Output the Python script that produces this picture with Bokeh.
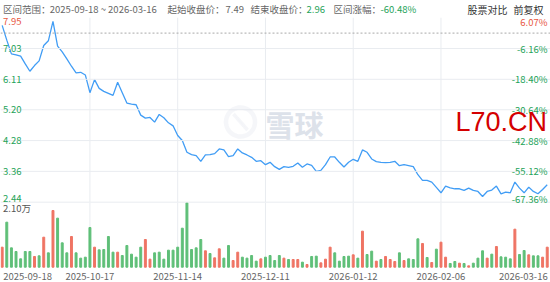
import numpy as np
from bokeh.plotting import figure
from bokeh.models import Range1d, Span, Label, LabelSet, ColumnDataSource, PolyAnnotation
from bokeh.core.properties import value
from bokeh.embed import file_html
from bokeh.resources import INLINE

# ---------------- data ----------------
range_text = "2025-09-18 ~ 2026-03-16"
start_close = 7.49
end_close = 2.96
change_text = "-60.48%"

close = [7.72, 7.28, 6.87, 6.84, 6.80, 6.57, 6.35, 6.52, 6.66, 7.12,
         7.26, 7.84, 7.10, 6.93, 6.72, 6.50, 6.30, 6.32, 6.24, 5.71,
         6.10, 5.84, 5.75, 5.69, 5.63, 6.02, 5.71, 5.40, 5.37, 5.35,
         5.04, 4.95, 4.97, 4.83, 5.06, 4.96, 4.81, 4.72, 4.43, 4.28,
         3.93, 3.86, 3.83, 3.66, 3.85, 3.86, 3.89, 4.03, 4.00, 3.80,
         3.83, 4.03, 3.91, 3.85, 3.78, 3.66, 3.68, 3.56, 3.63, 3.50,
         3.42, 3.50, 3.48, 3.51, 3.61, 3.48, 3.58, 3.54, 3.36, 3.39,
         3.56, 3.79, 3.79, 3.63, 3.49, 3.63, 3.72, 3.66, 4.00, 3.93,
         3.73, 3.65, 3.63, 3.62, 3.63, 3.66, 3.53, 3.56, 3.53, 3.50,
         3.26, 3.09, 3.09, 3.04, 2.88, 2.72, 2.92, 2.87, 2.84, 2.84,
         2.79, 2.86, 2.79, 2.76, 2.61, 2.76, 2.80, 2.92, 2.69, 2.74,
         2.72, 3.04, 2.86, 2.72, 2.89, 2.76, 2.69, 2.82, 2.96]

volume = [6530, 14680, 6310, 5120, 2730, 5120, 5120, 3490, 3710, 9790,
          4680, 18480, 15990, 7940, 4680, 10010, 4680, 2950, 3270, 12940,
          6530, 5660, 5770, 10010, 4900, 4900, 3810, 7070, 4250, 3270,
          6530, 9030, 2620, 4680, 4900, 2620, 5550, 5550, 6530, 12720,
          21000, 5770, 6310, 9030, 5340, 4470, 3050, 5990, 2950, 7070,
          2180, 4900, 3270, 2950, 3810, 1970, 2730, 3270, 3810, 2180,
          3810, 2950, 2510, 2510, 2510, 1640, 880, 3490, 3600, 1420,
          2620, 6530, 4680, 1970, 3490, 3600, 4030, 2950, 11750, 4140,
          5230, 1970, 2510, 3490, 2510, 1860, 4680, 2180, 2730, 2510,
          9250, 7730, 3160, 1530, 5880, 8160, 3270, 1210, 1860, 1310,
          1210, 450, 1310, 2950, 5340, 2950, 4250, 6750, 3380, 3270,
          2730, 12400, 4140, 5440, 4030, 3710, 3710, 3270, 6530]

# 1 = up day (red), 0 = down day (green)
vol_up = [1, 0, 0, 0, 0, 0, 0, 1, 0, 1,
          0, 1, 0, 0, 0, 1, 0, 0, 0, 0,
          1, 0, 0, 0, 0, 1, 0, 0, 0, 0,
          0, 1, 1, 0, 0, 0, 0, 0, 0, 0,
          0, 0, 0, 0, 1, 0, 1, 1, 0, 0,
          1, 1, 0, 0, 0, 0, 1, 0, 0, 0,
          0, 1, 0, 1, 1, 0, 1, 0, 0, 1,
          1, 1, 0, 0, 0, 0, 1, 0, 1, 0,
          0, 1, 0, 1, 1, 1, 0, 1, 0, 0,
          0, 1, 0, 1, 0, 1, 1, 0, 0, 1,
          0, 1, 0, 0, 0, 1, 0, 1, 0, 0,
          0, 1, 0, 0, 1, 0, 0, 1, 1]

price_ticks = [7.95, 7.03, 6.11, 5.20, 4.28, 3.36, 2.44]
price_tick_labels = ["7.95", "7.03", "6.11", "5.20", "4.28", "3.36", "2.44"]
pct_tick_labels = ["6.07%", "-6.16%", "-18.40%", "-30.64%", "-42.88%", "-55.12%", "-67.36%"]
x_tick_idx = [0, 19, 38, 57, 76, 95, 118]
x_tick_labels = ["2025-09-18", "2025-10-17", "2025-11-14", "2025-12-11",
                 "2026-01-12", "2026-02-06", "2026-03-16"]
vol_max = 21000
vol_max_label = "2.10万"

# ---------------- style ----------------
RED_T = "#e8573f"
GREEN_T = "#25a359"
GRAY_T = "#666666"
DARK_T = "#333333"
RED_B = "#ef7464"
GREEN_B = "#5fbf78"
LINE_C = "#419df5"
GRID_C = "#e9ecf0"
WM_C = "#dde2ea"
FONT = "Noto Sans CJK SC"
FS = "9.5px"
W, H = 550, 282

idx = list(range(len(close)))

p = figure(width=W, height=H, output_backend="svg", toolbar_location=None,
           x_range=Range1d(-0.3615, 118.71), y_range=Range1d(0.0403, 8.4638),
           x_axis_location=None, y_axis_location=None,
           min_border=0, min_border_left=0, min_border_right=0,
           min_border_top=0, min_border_bottom=0,
           outline_line_color=None, background_fill_color="white",
           border_fill_color="white")
p.grid.visible = False
p.extra_y_ranges = {"vol": Range1d(-4989, 86970)}

# horizontal grid
for t in price_ticks[1:]:
    p.add_layout(Span(location=t, dimension="width", line_color=GRID_C, line_width=1))
# start price dashed line
p.add_layout(Span(location=start_close, dimension="width", line_color="#a8a8a8",
                  line_width=1, line_dash="2 2"))

# vertical grid (price area + volume area)
vx = x_tick_idx[1:-1]
p.segment(x0=vx, x1=vx, y0=[price_ticks[0]] * len(vx), y1=[price_ticks[-1]] * len(vx),
          line_color=GRID_C, line_width=1)
p.segment(x0=vx, x1=vx, y0=[vol_max] * len(vx), y1=[0] * len(vx),
          line_color=GRID_C, line_width=1, y_range_name="vol")

# watermark
cx, cy, r = 240.0, 282 - 121.5, 14.5
th = np.linspace(0, 2 * np.pi, 72)
p.add_layout(PolyAnnotation(xs=list(cx + r * np.cos(th)), ys=list(cy + r * np.sin(th)),
                            xs_units="screen", ys_units="screen",
                            fill_alpha=0, line_color=WM_C, line_width=4.5))
p.add_layout(PolyAnnotation(xs=[cx - 7, cx - 1, cx + 7, cx + 1],
                            ys=[cy + 8, cy + 1, cy - 8, cy - 1],
                            xs_units="screen", ys_units="screen",
                            fill_color=WM_C, line_color=WM_C, line_width=3.5))
p.add_layout(Label(x=294, y=H - 123, x_units="screen", y_units="screen", text="雪球",
                   text_font=FONT, text_font_size="29px", text_color=WM_C,
                   text_align="center", text_baseline="middle", text_font_style="bold"))

# volume bars
vsrc = ColumnDataSource(dict(x=idx, top=volume,
                             color=[RED_B if u else GREEN_B for u in vol_up]))
p.vbar(x="x", top="top", bottom=0, width=0.42, color="color", source=vsrc,
       y_range_name="vol")

# price line
p.line(idx, close, line_color=LINE_C, line_width=1.3)

# price axis labels (left & right)
n = len(price_ticks)
yoff = [-4] + [0] * (n - 2) + [3.5]
colors = [RED_T if t > start_close else GREEN_T for t in price_ticks]
lsrc = ColumnDataSource(dict(y=price_ticks, t=price_tick_labels, pt=pct_tick_labels,
                             c=colors, yo=yoff))
p.add_layout(LabelSet(x=2.5, y="y", x_units="screen", text="t", source=lsrc,
                      y_offset="yo", text_color="c", text_font=value(FONT),
                      text_font_size=FS, text_align="left", text_baseline="middle"))
p.add_layout(LabelSet(x=547, y="y", x_units="screen", text="pt", source=lsrc,
                      y_offset="yo", text_color="c", text_font=value(FONT),
                      text_font_size=FS, text_align="right", text_baseline="middle"))

# volume max label
p.add_layout(Label(x=2.5, x_units="screen", y=vol_max, y_range_name="vol", y_offset=-5.5,
                   text=vol_max_label, text_font=FONT, text_font_size=FS,
                   text_color="#555555", text_baseline="middle"))

# x tick labels
aligns = ["left"] + ["center"] * (len(x_tick_idx) - 2) + ["right"]
xoffs = [1] + [0] * (len(x_tick_idx) - 2) + [0.5]
xsrc = ColumnDataSource(dict(x=x_tick_idx, t=x_tick_labels, a=aligns, xo=xoffs))
p.add_layout(LabelSet(x="x", y=6, y_units="screen", text="t", source=xsrc,
                      x_offset="xo", text_align="a", text_font=value(FONT),
                      text_font_size=FS, text_color=GRAY_T, text_baseline="middle"))

# header
header = [
    ("区间范围：", 2.5, GRAY_T, FS),
    (range_text, 49.3, GRAY_T, FS),
    ("起始收盘价：", 167, GRAY_T, FS),
    (f"{start_close:.2f}", 225, GRAY_T, FS),
    ("结束收盘价：", 250, GRAY_T, FS),
    (f"{end_close:.2f}", 306, GREEN_T, FS),
    ("区间涨幅：", 333, GRAY_T, FS),
    (change_text, 380, GREEN_T, FS),
    ("股票对比", 467, DARK_T, "10px"),
    ("前复权", 513, DARK_T, "10px"),
]
for txt, x, c, fs in header:
    p.add_layout(Label(x=x, y=H - 8.5, x_units="screen", y_units="screen", text=txt,
                       text_font=FONT, text_font_size=fs, text_color=c,
                       text_baseline="middle"))

# red overlay text
p.add_layout(Label(x=455, y=H - 121, x_units="screen", y_units="screen", text="L70.CN",
                   text_font="Liberation Sans", text_font_size="27px",
                   text_color="#d40000", text_baseline="alphabetic"))

open("out.html", "w").write(file_html(p, INLINE))
